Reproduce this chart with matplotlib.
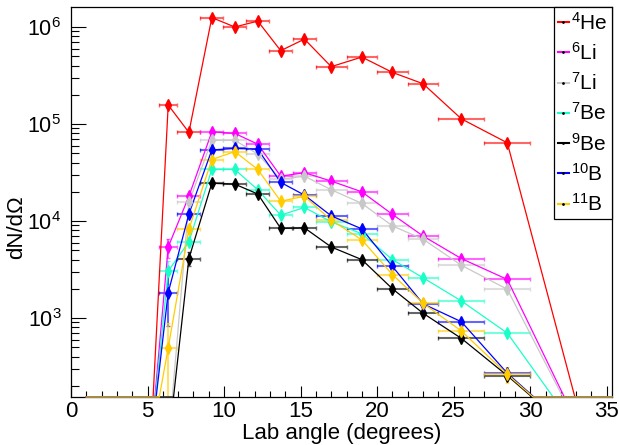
import numpy as np
import matplotlib
matplotlib.use("Agg")
import matplotlib.pyplot as plt
from matplotlib.lines import Line2D
from matplotlib.ticker import LogLocator, MultipleLocator, NullFormatter

plt.rcParams['font.family'] = ['Liberation Sans', 'DejaVu Sans']
plt.rcParams['mathtext.fontset'] = 'custom'
plt.rcParams['mathtext.rm'] = 'Liberation Sans'
plt.rcParams['mathtext.it'] = 'Liberation Sans:italic'
plt.rcParams['mathtext.bf'] = 'Liberation Sans:bold'

# bin centres / half widths (degrees); outer bins are empty
angle = [1.0, 2.1, 3.1, 4.2, 5.2, 6.35, 7.7, 9.2, 10.7, 12.2, 13.7, 15.25,
         17.0, 19.0, 21.0, 23.0, 25.5, 28.5, 33.75, 36.5]
angle_err = [0.5, 0.5, 0.5, 0.5, 0.5, 0.6, 0.75, 0.75, 0.75, 0.75, 0.75, 0.75,
             1.0, 1.0, 1.0, 1.0, 1.5, 1.5, 2.25, 2.25]

labels = ["$^{4}$He", "$^{6}$Li", "$^{7}$Li", "$^{7}$Be", "$^{9}$Be", "$^{10}$B", "$^{11}$B"]
colors = ["#ff0000", "#ff00ff", "#c8c8c8", "#1affc8", "#000000", "#0000ff", "#ffcc00"]

he4 = [0, 0, 0, 0, 0, 1.57e5, 8.2e4, 1.25e6, 1.0e6, 1.15e6, 5.7e5, 7.5e5,
       3.9e5, 4.9e5, 3.4e5, 2.6e5, 1.13e5, 6.4e4, 0, 0]
li6 = [0, 0, 0, 0, 0, 5.4e3, 1.8e4, 8.3e4, 8.0e4, 6.2e4, 2.9e4, 3.15e4,
       2.58e4, 2.0e4, 1.17e4, 7.0e3, 4.1e3, 2.5e3, 0, 0]
li7 = [0, 0, 0, 0, 0, 0, 1.56e4, 6.8e4, 6.8e4, 4.9e4, 2.7e4, 2.9e4,
       2.1e4, 1.52e4, 8.9e3, 6.5e3, 3.5e3, 1.98e3, 0, 0]
be7 = [0, 0, 0, 0, 0, 3.05e3, 6.1e3, 3.4e4, 3.4e4, 2.1e4, 1.15e4, 1.38e4,
       9.8e3, 7.4e3, 4.0e3, 2.6e3, 1.5e3, 700, 0, 0]
be9 = [0, 0, 0, 0, 0, 0, 4.1e3, 2.45e4, 2.4e4, 1.9e4, 8.4e3, 8.5e3,
       5.4e3, 4.0e3, 2.0e3, 1.12e3, 617, 255, 0, 0]
b10 = [0, 0, 0, 0, 0, 1.83e3, 1.18e4, 5.4e4, 5.6e4, 5.5e4, 2.5e4, 1.85e4,
       1.13e4, 8.3e3, 3.4e3, 1.4e3, 916, 270, 0, 0]
b11 = [0, 0, 0, 0, 0, 494, 8.2e3, 4.3e4, 5.2e4, 3.4e4, 1.6e4, 1.8e4,
       1.02e4, 6.4e3, 2.8e3, 1.42e3, 735, 263, 0, 0]

# statistical errors (only the visible ones)
he4_err = [0] * 20
li6_err = [0, 0, 0, 0, 0, 1200, 600, 0, 0, 0, 0, 0, 0, 0, 0, 0, 0, 0, 0, 0]
li7_err = [0] * 20
be7_err = [0, 0, 0, 0, 0, 800, 0, 0, 0, 0, 0, 0, 0, 0, 0, 0, 0, 0, 0, 0]
be9_err = [0, 0, 0, 0, 0, 0, 650, 0, 0, 0, 0, 0, 0, 0, 0, 0, 0, 0, 0, 0]
b10_err = [0, 0, 0, 0, 0, 1000, 0, 0, 0, 0, 0, 0, 0, 0, 0, 0, 0, 0, 0, 0]
b11_err = [0, 0, 0, 0, 0, 400, 800, 0, 0, 0, 0, 0, 0, 0, 0, 0, 0, 50, 0, 0]

series = [he4, li6, li7, be7, be9, b10, b11]
errors = [he4_err, li6_err, li7_err, be7_err, be9_err, b10_err, b11_err]

XMIN, XMAX = 0.0, 35.34
YMIN, YMAX = 153.5, 1.607e6
YZERO = 49.0  # where ROOT puts empty bins on a log pad (pad bottom)


def clamped_path(x, y):
    # line through the points, empty bins at pad bottom, parts below the
    # frame pushed onto the frame edge (ROOT style)
    x = np.asarray(x, float)
    ly = np.log10(np.where(np.asarray(y) > 0, y, YZERO))
    lmin = np.log10(YMIN)
    xs, ls = [x[0]], [ly[0]]
    for i in range(1, len(x)):
        a, b = ly[i - 1], ly[i]
        if (a - lmin) * (b - lmin) < 0:
            t = (lmin - a) / (b - a)
            xs.append(x[i - 1] + t * (x[i] - x[i - 1]))
            ls.append(lmin)
        xs.append(x[i])
        ls.append(b)
    xs = np.clip(xs, XMIN, XMAX)
    ls = np.maximum(ls, lmin)
    return xs, 10 ** ls


fig = plt.figure(figsize=(6.19, 4.45), dpi=100)
ax = fig.add_axes([71 / 619, 1 - 397 / 445, 541 / 619, 390 / 445])

x = np.array(angle)
xe = np.array(angle_err)
for vals, errs, c in zip(series, errors, colors):
    v = np.array(vals, float)
    e = np.array(errs, float)
    ok = v > 0
    ax.errorbar(x[ok], v[ok], xerr=xe[ok], yerr=e[ok], fmt='none', ecolor=c,
                elinewidth=1.5, capsize=1.6, capthick=1.0, alpha=0.6, zorder=3)
    px, py = clamped_path(x, v)
    ax.plot(px, py, color=c, lw=0.9, clip_on=False, zorder=4)
    ax.plot(x[ok], v[ok], 'd', color=c, ms=5.8, mec=c, zorder=5)

ax.set_yscale('log')
ax.set_xlim(XMIN, XMAX)
ax.set_ylim(YMIN, YMAX)

ax.xaxis.set_major_locator(MultipleLocator(5))
ax.xaxis.set_minor_locator(MultipleLocator(1))
ax.yaxis.set_major_locator(LogLocator(base=10))
ax.yaxis.set_minor_locator(LogLocator(base=10, subs=np.arange(2, 10)))
ax.yaxis.set_minor_formatter(NullFormatter())

ax.tick_params(axis='both', which='both', direction='in', top=False, right=False,
               width=0.8)
ax.tick_params(axis='x', labelsize=16)
ax.tick_params(axis='y', labelsize=15.5)
ax.tick_params(axis='x', which='major', length=8, pad=3)
ax.tick_params(axis='x', which='minor', length=4)
ax.tick_params(axis='y', which='major', length=11, pad=7)
ax.tick_params(axis='y', which='minor', length=5.5)
for s in ax.spines.values():
    s.set_linewidth(0.9)

ax.set_xlabel("Lab angle (degrees)", fontsize=16)
ax.xaxis.set_label_coords(0.5, -0.066)
ax.set_ylabel("dN/dΩ", fontsize=16)
ax.yaxis.set_label_coords(-0.082, 0.435)

handles = [Line2D([], [], color=c, lw=1.5, marker='.', ms=2, mfc='k', mec='k')
           for c in colors]
leg = ax.legend(handles, labels, loc='upper right', bbox_to_anchor=(1, 1),
                borderaxespad=0, fontsize=15, handlelength=0.5, handletextpad=0.1,
                borderpad=0.22, labelspacing=0.4, fancybox=False, framealpha=1,
                edgecolor='k')
leg.get_frame().set_linewidth(0.9)
leg.set_zorder(10)

fig.savefig("out.png", dpi=100)
